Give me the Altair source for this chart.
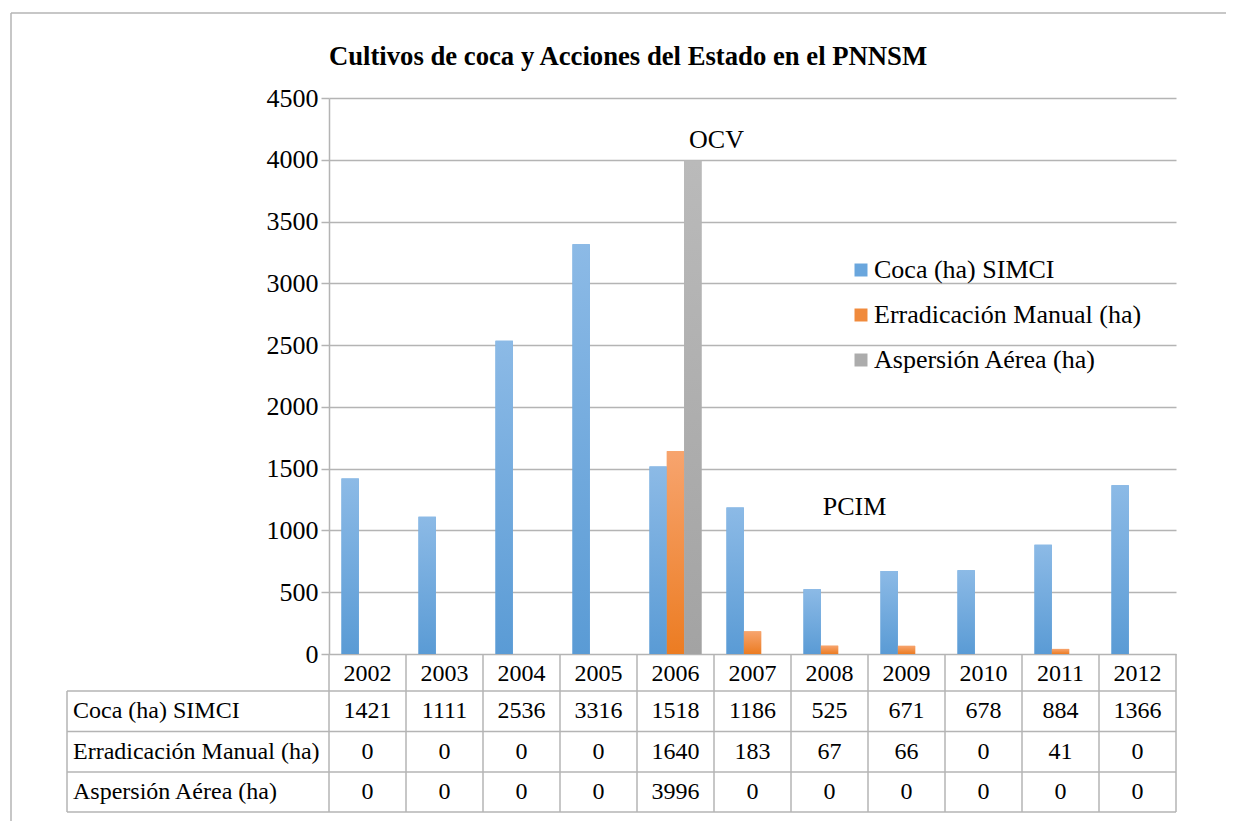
import altair as alt
import pandas as pd

years = ["2002", "2003", "2004", "2005", "2006", "2007", "2008", "2009", "2010", "2011", "2012"]
series = ["Coca (ha) SIMCI", "Erradicación Manual (ha)", "Aspersión Aérea (ha)"]
coca = [1421, 1111, 2536, 3316, 1518, 1186, 525, 671, 678, 884, 1366]
erradicacion = [0, 0, 0, 0, 1640, 183, 67, 66, 0, 41, 0]
aspersion = [0, 0, 0, 0, 3996, 0, 0, 0, 0, 0, 0]
title_text = "Cultivos de coca y Acciones del Estado en el PNNSM"
annot_labels = ["OCV", "PCIM"]
annot_years = ["2006", "2008"]
annot_values = [4160, 1190]
y_ticks = [0, 500, 1000, 1500, 2000, 2500, 3000, 3500, 4000, 4500]

flat_colors = ["#6aa6dd", "#f08a3c", "#acacac"]
grad_stops = [("#8cbae6", "#5a9bd5"), ("#f7a46e", "#ec7c22"), ("#bababa", "#a3a3a3")]

FONT = "Liberation Serif"
GRID = "#b4b4b4"
W, H = 847, 556

rows = []
for s, vals in zip(series, [coca, erradicacion, aspersion]):
    for yr, v in zip(years, vals):
        rows.append({"year": yr, "series": s, "value": v})
df = pd.DataFrame(rows)
one = pd.DataFrame({"t": [title_text]})
years_df = pd.DataFrame({"year": years})

x_scale = alt.Scale(domain=years, paddingInner=0, paddingOuter=0)
xo_scale = alt.Scale(domain=series, paddingInner=0, paddingOuter=0.72)
y_enc = alt.Y("value:Q", scale=alt.Scale(domain=[0, 4500]),
              axis=alt.Axis(values=y_ticks, format="d", title=None, grid=True, gridColor=GRID,
                            gridWidth=1.5, domainColor=GRID, domainWidth=1.5,
                            tickColor=GRID, tickWidth=1.5, tickSize=8,
                            labelFont=FONT, labelFontSize=26, labelColor="black",
                            labelPadding=3))
x_enc = alt.X("year:N", scale=x_scale, axis=None)

layers = []
# flat bars (carry the legend)
layers.append(
    alt.Chart(df).mark_bar().encode(
        x=x_enc, y=y_enc,
        xOffset=alt.XOffset("series:N", scale=xo_scale),
        color=alt.Color("series:N", scale=alt.Scale(domain=series, range=flat_colors),
                        legend=alt.Legend(orient="none", legendX=519, legendY=159,
                                          title=None, labelFont=FONT, labelFontSize=26,
                                          labelColor="black", labelLimit=0,
                                          symbolType="square",
                                          symbolSize=169, symbolStrokeWidth=0,
                                          labelOffset=0, rowPadding=19, padding=0)),
    )
)
# gradient bars on top
for s, (c1, c2) in zip(series, grad_stops):
    grad = alt.Gradient(gradient="linear",
                        stops=[alt.GradientStop(color=c1, offset=0),
                               alt.GradientStop(color=c2, offset=1)],
                        x1=0, x2=0, y1=0, y2=1)
    layers.append(
        alt.Chart(df).transform_filter(alt.datum.series == s).mark_bar(color=grad).encode(
            x=x_enc, y=y_enc,
            xOffset=alt.XOffset("series:N", scale=xo_scale),
        )
    )

# annotations
annot_dx = [41, 25]
for lab, yr, val, dx in zip(annot_labels, annot_years, annot_values, annot_dx):
    adf = pd.DataFrame({"label": [lab], "year": [yr], "value": [val]})
    layers.append(
        alt.Chart(adf).mark_text(font=FONT, fontSize=26, color="black", dx=dx,
                                 baseline="middle", align="center").encode(
            x=x_enc, y=alt.Y("value:Q"), text="label:N")
    )

# title
layers.append(
    alt.Chart(one).mark_text(font=FONT, fontSize=26.7, fontWeight="bold", color="black",
                             align="center", baseline="middle").encode(
        x=alt.value(299), y=alt.value(-41), text="t:N")
)

# outer border (top and left visible)
layers.append(alt.Chart(one).mark_rule(color=GRID, strokeWidth=1.5).encode(
    x=alt.value(-318), x2=alt.value(W + 50), y=alt.value(-85)))
layers.append(alt.Chart(one).mark_rule(color=GRID, strokeWidth=1.5).encode(
    x=alt.value(-318), y=alt.value(-85), y2=alt.value(H + 170)))

# data table
TABLE_TOP = H
ROW_LINES = [593, 633.5, 674, 714]
TEXT_Y = [613, 653.5, 694]
YEAR_Y = 576
for ry in ROW_LINES:
    layers.append(alt.Chart(one).mark_rule(color=GRID, strokeWidth=1.5).encode(
        x=alt.value(-262), x2=alt.value(W), y=alt.value(ry)))
layers.append(alt.Chart(years_df).mark_rule(color=GRID, strokeWidth=1.5).encode(
    x=alt.X("year:N", scale=x_scale, axis=None, bandPosition=0),
    y=alt.value(TABLE_TOP), y2=alt.value(ROW_LINES[-1])))
layers.append(alt.Chart(one).mark_rule(color=GRID, strokeWidth=1.5).encode(
    x=alt.value(W), y=alt.value(TABLE_TOP), y2=alt.value(ROW_LINES[-1])))
layers.append(alt.Chart(one).mark_rule(color=GRID, strokeWidth=1.5).encode(
    x=alt.value(-262), y=alt.value(ROW_LINES[0]), y2=alt.value(ROW_LINES[-1])))

layers.append(alt.Chart(years_df).mark_text(font=FONT, fontSize=24, color="black",
                                            baseline="middle", align="center").encode(
    x=x_enc, y=alt.value(YEAR_Y), text="year:N"))
for s, ty in zip(series, TEXT_Y):
    sdf = df[df["series"] == s]
    layers.append(alt.Chart(sdf).mark_text(font=FONT, fontSize=24, color="black",
                                           baseline="middle", align="center").encode(
        x=x_enc, y=alt.value(ty), text="value:Q"))
    layers.append(alt.Chart(pd.DataFrame({"series": [s]})).mark_text(
        font=FONT, fontSize=24, color="black", baseline="middle", align="left").encode(
        x=alt.value(-256), y=alt.value(ty), text="series:N"))

chart = alt.layer(*layers).properties(
    width=W, height=H,
    autosize=alt.AutoSizeParams(type="none"),
    padding={"left": 321, "top": 90, "right": 50, "bottom": 167},
    background="white",
).configure_view(strokeWidth=0)

chart.save("out.html", embed_options={"renderer": "svg", "actions": False})
